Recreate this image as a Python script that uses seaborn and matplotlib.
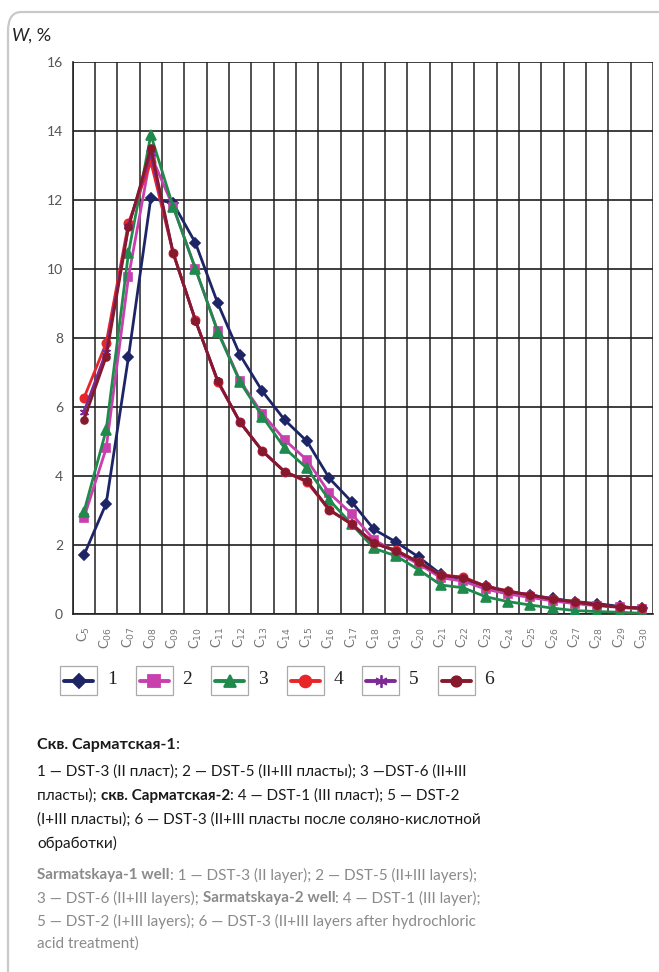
import matplotlib
matplotlib.use("Agg")
import matplotlib.pyplot as plt
from matplotlib.patches import FancyBboxPatch, Rectangle
from matplotlib.lines import Line2D
import seaborn as sns
import pandas as pd

# Carbon numbers of n-alkanes
carbons = ["5", "06", "07", "08", "09", "10", "11", "12", "13", "14", "15", "16", "17",
           "18", "19", "20", "21", "22", "23", "24", "25", "26", "27", "28", "29", "30"]

# Relative content W, % for each sample
s1 = [1.7, 3.2, 7.45, 12.05, 11.9, 10.75, 9.0, 7.5, 6.45, 5.62, 5.0, 3.93, 3.25,
      2.45, 2.08, 1.65, 1.15, 1.0, 0.8, 0.65, 0.55, 0.45, 0.36, 0.3, 0.22, 0.16]
s2 = [2.78, 4.8, 9.77, 13.3, 11.8, 10.0, 8.2, 6.75, 5.8, 5.04, 4.46, 3.5, 2.9,
      2.15, 1.78, 1.45, 1.05, 0.95, 0.72, 0.58, 0.48, 0.38, 0.3, 0.24, 0.19, 0.14]
s3 = [2.95, 5.33, 10.46, 13.88, 11.8, 10.0, 8.17, 6.72, 5.72, 4.8, 4.22, 3.3, 2.6,
      1.9, 1.68, 1.28, 0.84, 0.76, 0.5, 0.36, 0.26, 0.17, 0.1, 0.07, 0.05, 0.02]
s4 = [6.25, 7.85, 11.33, 13.1, 10.46, 8.52, 6.72, 5.56, 4.72, 4.12, 3.82, 3.0, 2.62,
      2.05, 1.85, 1.5, 1.13, 1.07, 0.81, 0.67, 0.55, 0.43, 0.35, 0.26, 0.2, 0.17]
s5 = [5.85, 7.6, 11.25, 13.35, 10.46, 8.5, 6.75, 5.55, 4.72, 4.12, 3.85, 3.02, 2.6,
      2.05, 1.83, 1.5, 1.12, 1.05, 0.8, 0.66, 0.55, 0.43, 0.35, 0.26, 0.2, 0.17]
s6 = [5.62, 7.45, 11.2, 13.5, 10.46, 8.5, 6.75, 5.55, 4.72, 4.12, 3.85, 3.02, 2.6,
      2.05, 1.83, 1.5, 1.12, 1.05, 0.8, 0.66, 0.55, 0.43, 0.35, 0.26, 0.2, 0.17]

series_names = ["1", "2", "3", "4", "5", "6"]
y_ticks = [0, 2, 4, 6, 8, 10, 12, 14, 16]

colors = ["#1d2566", "#c83fae", "#1f8a4c", "#e8262a", "#7b2a96", "#86192c"]
markers = ["D", "s", "^", "o", (6, 2, 0), "o"]
msizes = [5, 6, 6.5, 6, 6.5, 5]

sns.set_style("white")
plt.rcParams["font.family"] = ["Lato", "DejaVu Sans"]

W, H = 659, 972
fig = plt.figure(figsize=(W / 100, H / 100), dpi=100)

# rounded frame around the figure panel
frame = FancyBboxPatch((8 / W, 1 - 1000 / H), 700 / W, (1000 - 12) / H,
                       boxstyle="round,pad=0,rounding_size=0.02",
                       transform=fig.transFigure, fill=False,
                       edgecolor="#c9c9c9", linewidth=1.6, zorder=0)
fig.patches.append(frame)

ax = fig.add_axes([72.7 / W, 1 - 614 / H, (653 - 72.7) / W, (614 - 61.7) / H])

values = [s1, s2, s3, s4, s5, s6]
df = pd.DataFrame({
    "pos": [i for _ in values for i in range(len(carbons))],
    "W": [v for vals in values for v in vals],
    "sample": [n for n, vals in zip(series_names, values) for _ in vals],
})

for k, name in enumerate(series_names):
    sub = df[df["sample"] == name]
    sns.lineplot(data=sub, x="pos", y="W", ax=ax, color=colors[k], marker=markers[k],
                 markersize=msizes[k], markeredgecolor=colors[k], markeredgewidth=1.2,
                 linewidth=2.0, legend=False, zorder=3 + k * 0.1, sort=False)

ax.set_xlim(-0.5, len(carbons) - 0.5)
ax.set_ylim(0, 16)
ax.set_yticks(y_ticks)
ax.set_yticklabels([str(t) for t in y_ticks], fontsize=10, color="#555555")
ax.set_xticks(range(len(carbons)))
ax.set_xticklabels(["C$_{" + c + "}$" for c in carbons], rotation=90,
                   fontsize=9.5, color="#777777")
ax.set_xticks([i - 0.5 for i in range(len(carbons) + 1)], minor=True)
ax.tick_params(axis="x", which="major", length=0, pad=9)
ax.tick_params(axis="x", which="minor", length=4, width=1, color="#333333", direction="out")
ax.tick_params(axis="y", which="major", length=4, width=1, color="#333333", direction="out", pad=3)
ax.grid(False)
ax.xaxis.grid(True, which="minor", color="#333333", linewidth=1.2)
ax.yaxis.grid(True, which="major", color="#1e1e1e", linewidth=1.2)
ax.set_axisbelow(True)
for side in ["top", "right"]:
    ax.spines[side].set_visible(False)
for side in ["left", "bottom"]:
    ax.spines[side].set_color("#222222")
    ax.spines[side].set_linewidth(1.2)
ax.set_xlabel("")
ax.set_ylabel("")

fig.text(12 / W, 1 - 36 / H, "W", fontsize=13, style="italic", color="#222222", va="center")
fig.text(28 / W, 1 - 36 / H, ", %", fontsize=13, color="#222222", va="center")

# legend: each key in its own box, label beside it
for k, name in enumerate(series_names):
    x0 = 60 + 75.5 * k
    fig.patches.append(Rectangle((x0 / W, 1 - 695 / H), 37 / W, 29 / H,
                                 transform=fig.transFigure, fill=False,
                                 edgecolor="#aaaaaa", linewidth=0.9))
    fig.lines.append(Line2D([(x0 + 4) / W, (x0 + 33) / W], [1 - 680.5 / H] * 2,
                            transform=fig.transFigure, color=colors[k], linewidth=2.8))
    fig.lines.append(Line2D([(x0 + 18.5) / W], [1 - 680.5 / H],
                            transform=fig.transFigure, color=colors[k], linestyle="none",
                            marker=markers[k], markersize=msizes[k] + 2.5,
                            markeredgecolor=colors[k], markeredgewidth=1.3))
    fig.text((x0 + 47) / W, 1 - 679 / H, name, fontsize=14, color="#222222",
             va="center", family=["Liberation Serif", "DejaVu Serif"])

fig.canvas.draw()
renderer = fig.canvas.get_renderer()


def rich_line(x_px, y_px, parts, size=11):
    x = x_px
    for text, bold, color in parts:
        t = fig.text(x / W, 1 - y_px / H, text, fontsize=size, color=color,
                     fontweight="bold" if bold else "normal", va="center")
        x += t.get_window_extent(renderer).width


dark = "#1a1a1a"
grey = "#8a8a8a"
rich_line(37, 745, [("Скв. Сарматская-1", True, dark), (":", False, dark)], size=11.5)
rich_line(37, 772, [("1 — DST-3 (II пласт); 2 — DST-5 (II+III пласты); 3 —DST-6 (II+III", False, dark)])
rich_line(37, 796, [("пласты); ", False, dark), ("скв. Сарматская-2", True, dark),
                    (": 4 — DST-1 (III пласт); 5 — DST-2", False, dark)])
rich_line(37, 820, [("(I+III пласты); 6 — DST-3 (II+III пласты после соляно-кислотной", False, dark)])
rich_line(37, 843, [("обработки)", False, dark)])
rich_line(37, 875, [("Sarmatskaya-1 well", True, grey),
                    (": 1 — DST-3 (II layer); 2 — DST-5 (II+III layers);", False, grey)])
rich_line(37, 898, [("3 — DST-6 (II+III layers); ", False, grey), ("Sarmatskaya-2 well", True, grey),
                    (": 4 — DST-1 (III layer);", False, grey)])
rich_line(37, 921, [("5 — DST-2 (I+III layers); 6 — DST-3 (II+III layers after hydrochloric", False, grey)])
rich_line(37, 944, [("acid treatment)", False, grey)])

fig.savefig("out.png", dpi=100)
